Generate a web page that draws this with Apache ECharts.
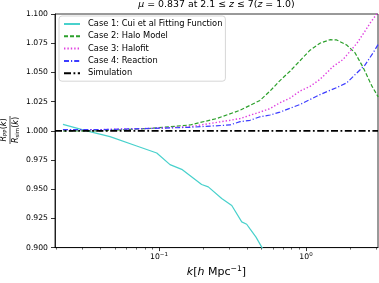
<!DOCTYPE html>
<html>
<head>
<meta charset="utf-8">
<script src="https://cdn.jsdelivr.net/npm/echarts@6/dist/echarts.min.js"></script>
<style>html,body{margin:0;padding:0;background:#fff}#c{width:379px;height:283px}</style>
</head>
<body>
<div id="c"></div>
<script>
// ---- data ----
const kMin = 0.0196, kMax = 3.09;
const kCase1 = [0.0222, 0.0322, 0.0464, 0.0705, 0.0965, 0.1188, 0.1427, 0.195, 0.2164, 0.267, 0.3126, 0.3655, 0.395, 0.416, 0.457, 0.502, 0.569];
const rCase1 = [1.0055, 1.000, 0.995, 0.987, 0.981, 0.971, 0.967, 0.954, 0.952, 0.942, 0.936, 0.922, 0.920, 0.916, 0.909, 0.900, 0.888];

const kCase2 = [0.0222, 0.0397, 0.0868, 0.1625, 0.247, 0.356, 0.486, 0.569, 0.665, 0.778, 0.910, 1.065, 1.245, 1.457, 1.617, 1.891, 2.154, 2.454, 2.798, 3.10];
const rCase2 = [1.000, 1.000, 1.002, 1.005, 1.0105, 1.0176, 1.026, 1.034, 1.043, 1.051, 1.060, 1.069, 1.075, 1.078, 1.0778, 1.0735, 1.0668, 1.054, 1.0387, 1.029];

const kCase3 = [0.0222, 0.0397, 0.0868, 0.1625, 0.304, 0.356, 0.416, 0.486, 0.569, 0.665, 0.778, 0.910, 1.065, 1.245, 1.527, 1.786, 1.992, 2.223, 2.481, 2.725, 3.027, 3.10];
const rCase3 = [1.001, 1.001, 1.002, 1.0035, 1.009, 1.0105, 1.0133, 1.016, 1.019, 1.024, 1.028, 1.034, 1.038, 1.044, 1.055, 1.061, 1.068, 1.075, 1.084, 1.092, 1.100, 1.102];

const kCase4 = [0.0222, 0.0397, 0.0868, 0.1625, 0.304, 0.356, 0.416, 0.486, 0.569, 0.665, 0.910, 1.245, 1.617, 1.891, 2.154, 2.511, 2.871, 3.10];
const rCase4 = [1.001, 1.001, 1.002, 1.003, 1.005, 1.0078, 1.009, 1.012, 1.0135, 1.016, 1.0225, 1.031, 1.037, 1.041, 1.048, 1.056, 1.067, 1.074];

const kSim = [kMin, kMax];
const rSim = [1.0, 1.0];

const seriesNames = ['Case 1: Cui et al Fitting Function', 'Case 2: Halo Model', 'Case 3: Halofit', 'Case 4: Reaction', 'Simulation'];
const yTickMin = 0.9, yTickMax = 1.1, yTickStep = 0.025;
const xMajorDecades = [-1, 0];
const xMinorK = [0.02,0.03,0.04,0.05,0.06,0.07,0.08,0.09,0.2,0.3,0.4,0.5,0.6,0.7,0.8,0.9,2,3];

// ---- build ----
const toPts = (ks, rs) => ks.map((k, i) => [Math.log10(k), rs[i]]);
const xmin = Math.log10(kMin), xmax = Math.log10(kMax);
const FONT = 'DejaVu Sans';

const chart = echarts.init(document.getElementById('c'), null, {renderer: 'canvas'});
const mk = (name, pts, color, width, type) => ({
  name, type: 'line', data: pts, symbol: 'none', showSymbol: false, clip: true,
  lineStyle: {color, width, type}, itemStyle: {color}, animation: false
});

chart.setOption({
  animation: false,
  backgroundColor: '#fff',
  title: {
    text: '{i|μ} = 0.837 at 2.1 ≤ {i|z} ≤ 7({i|z} = 1.0)',
    left: 216.5, textAlign: 'center', top: 0, padding: 0,
    textStyle: {fontFamily: FONT, fontSize: 9.4, fontWeight: 'normal', color: '#000',
      rich: {i: {fontFamily: FONT, fontSize: 9.4, fontStyle: 'italic', color: '#000'}}}
  },
  grid: {left: 55, top: 14, width: 323, height: 237, show: true, borderColor: '#000', borderWidth: 0.8, backgroundColor: 'transparent'},
  legend: {
    orient: 'vertical', left: 59, top: 16, padding: [3, 3, 3, 4], itemGap: 2.3,
    itemWidth: 16, itemHeight: 8,
    backgroundColor: 'rgba(255,255,255,0.85)', borderColor: '#cccccc', borderWidth: 0.8, borderRadius: 3,
    data: seriesNames,
    itemStyle: {opacity: 0},
    textStyle: {fontFamily: FONT, fontSize: 8.3, color: '#000', lineHeight: 10, padding: [0, 0, 0, 3]}
  },
  xAxis: [{
    type: 'value', min: xmin, max: xmax,
    axisLine: {show: true, onZero: false, lineStyle: {color: '#000', width: 0.8}},
    axisTick: {show: true, customValues: xMajorDecades, length: 3.5, lineStyle: {color: '#000', width: 0.8}},
    axisLabel: {show: true, customValues: xMajorDecades, margin: 4,
      formatter: v => '{b|10}{s|' + (v < 0 ? '−' + (-v) : v) + '}',
      rich: {b: {fontFamily: FONT, fontSize: 7.7, color: '#000'}, s: {fontFamily: FONT, fontSize: 5.5, color: '#000', padding: [0, 0, 4, 0]}}},
    splitLine: {show: false},
    name: '{i|k}[{i|h} Mpc{s|−1}]', nameLocation: 'middle', nameGap: 17,
    nameTextStyle: {fontFamily: FONT, fontSize: 11, color: '#000',
      rich: {i: {fontFamily: FONT, fontSize: 11, fontStyle: 'italic', color: '#000'},
             s: {fontFamily: FONT, fontSize: 7.7, color: '#000', padding: [0, 0, 6, 0]}}}
  }, {
    type: 'value', min: xmin, max: xmax, position: 'bottom',
    axisLine: {show: false, onZero: false},
    axisTick: {show: true, customValues: xMinorK.map(k => Math.log10(k)), length: 2, lineStyle: {color: '#000', width: 0.6}},
    axisLabel: {show: false}, splitLine: {show: false}
  }],
  yAxis: {
    type: 'value', min: yTickMin, max: yTickMax, interval: yTickStep,
    axisLine: {show: true, onZero: false, lineStyle: {color: '#000', width: 0.8}},
    axisTick: {show: true, length: 4, lineStyle: {color: '#000', width: 0.8}},
    axisLabel: {fontFamily: FONT, fontSize: 7.7, color: '#000', margin: 7, formatter: v => v.toFixed(3)},
    splitLine: {show: false}
  },
  series: [
    mk(seriesNames[0], toPts(kCase1, rCase1), '#48d1cc', 1.2, 'solid'),
    mk(seriesNames[1], toPts(kCase2, rCase2), '#2ca02c', 1.2, [4, 2]),
    mk(seriesNames[2], toPts(kCase3, rCase3), '#e040e0', 1.4, [1.4, 2]),
    mk(seriesNames[3], toPts(kCase4, rCase4), '#3c3cff', 1.2, [5, 2, 1.2, 2]),
    mk(seriesNames[4], toPts(kSim, rSim), '#000000', 1.8, [7, 2.5, 1.8, 2.5])
  ],
  graphic: [{
    type: 'group', x: 10, y: 130, rotation: Math.PI / 2,
    children: [
      {type: 'text', x: 0, y: -1.5, style: {text: '{i|R}{sub|PP}({i|k})', textAlign: 'center', textVerticalAlign: 'bottom',
        font: '8px ' + FONT, fill: '#000',
        rich: {i: {fontFamily: FONT, fontSize: 8, fontStyle: 'italic', fill: '#000'}, sub: {fontFamily: FONT, fontSize: 5.5, fill: '#000', padding: [3, 0, 0, 0]}}}},
      {type: 'line', shape: {x1: -14, y1: 0, x2: 14, y2: 0}, style: {stroke: '#000', lineWidth: 0.7}},
      {type: 'text', x: 0, y: 1.5, style: {text: '{i|R}{sub|sim}({i|k})', textAlign: 'center', textVerticalAlign: 'top',
        font: '8px ' + FONT, fill: '#000',
        rich: {i: {fontFamily: FONT, fontSize: 8, fontStyle: 'italic', fill: '#000'}, sub: {fontFamily: FONT, fontSize: 5.5, fill: '#000', padding: [3, 0, 0, 0]}}}}
    ]
  }]
});
</script>
</body>
</html>
